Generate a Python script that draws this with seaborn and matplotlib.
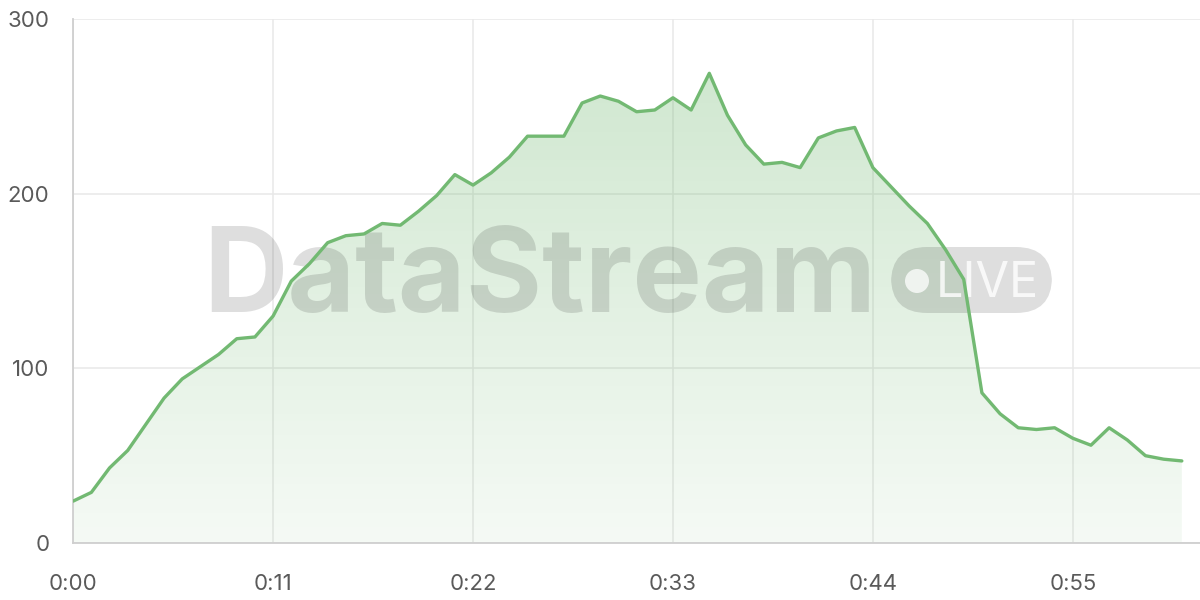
import numpy as np
import pandas as pd
import seaborn as sns
import matplotlib.pyplot as plt
from matplotlib.patches import FancyBboxPatch, Ellipse
from matplotlib.colors import LinearSegmentedColormap

# one reading per minute, 0:00 .. 1:01
minutes = list(range(62))
viewers = [24, 29, 43, 53, 68, 83, 94, 101, 108, 117,
           118, 130, 150, 160, 172, 176, 177, 183, 182, 190,
           199, 211, 205, 212, 221, 233, 233, 233, 252, 256,
           253, 247, 248, 255, 248, 269, 245, 228, 217, 218,
           215, 232, 236, 238, 215, 204, 193, 183, 168, 151,
           86, 74, 66, 65, 66, 60, 56, 66, 59, 50,
           48, 47]
tick_minutes = [0, 11, 22, 33, 44, 55]
tick_labels = ["0:00", "0:11", "0:22", "0:33", "0:44", "0:55"]

df = pd.DataFrame({"minute": minutes, "viewers": viewers})

sns.set_theme(style="white")
plt.rcParams["font.family"] = ["Inter", "DejaVu Sans"]

line_color = "#72b972"

fig = plt.figure(figsize=(12, 6), dpi=100)
ax = fig.add_axes([0.061, 0.095, 0.939, 0.873])

# gradient fill under the line
poly = ax.fill_between(df["minute"], df["viewers"], 0, color="none", lw=0)
cmap = LinearSegmentedColormap.from_list(
    "fade", [(0.447, 0.725, 0.447, 0.07), (0.447, 0.725, 0.447, 0.33)])
grad = np.linspace(0, 1, 256).reshape(-1, 1)
img = ax.imshow(grad, cmap=cmap, aspect="auto", origin="lower",
                extent=[0, max(minutes), 0, max(viewers)], zorder=1)
img.set_clip_path(poly.get_paths()[0], transform=ax.transData)

sns.lineplot(data=df, x="minute", y="viewers", color=line_color,
             linewidth=2.4, ax=ax, zorder=4)

ax.set_xlim(0, 62)
ax.set_ylim(0, 300)
ax.set_xticks(tick_minutes)
ax.set_xticklabels(tick_labels)
ax.set_yticks([0, 100, 200, 300])
ax.set_xlabel("")
ax.set_ylabel("")

ax.grid(True, color="#e8e8e8", linewidth=1.1, zorder=0)
ax.set_axisbelow(True)
for side in ["top", "right"]:
    ax.spines[side].set_visible(False)
for side in ["left", "bottom"]:
    ax.spines[side].set_color("#cfcfcf")
    ax.spines[side].set_linewidth(1.3)
ax.tick_params(axis="both", length=10, width=1.1, color="#e8e8e8",
               labelcolor="#5a5a5a", labelsize=16, pad=7)
ax.tick_params(axis="x", pad=12)

# watermark
wm = dict(transform=fig.transFigure, zorder=3)
ax.text(540 / 1200, 1 - 312 / 600, "DataStream", fontsize=84,
        fontweight="bold", color="black", alpha=0.13,
        ha="center", va="baseline", **wm)
pill = FancyBboxPatch((891 / 1200, 1 - 313 / 600), 161 / 1200, 66 / 600,
                      boxstyle="round,pad=0,rounding_size=0.03",
                      mutation_aspect=2, transform=fig.transFigure,
                      facecolor="black", alpha=0.13, edgecolor="none",
                      zorder=3)
ax.add_artist(pill)
ax.add_artist(Ellipse((917 / 1200, 1 - 281 / 600), 24 / 1200, 24 / 600,
                      transform=fig.transFigure, facecolor="white",
                      alpha=0.75, edgecolor="none", zorder=3))
ax.text(987 / 1200, 1 - 297 / 600, "LIVE", fontsize=35, color="white",
        alpha=0.8, ha="center", va="baseline", **wm)

fig.savefig("out.png", dpi=100)
